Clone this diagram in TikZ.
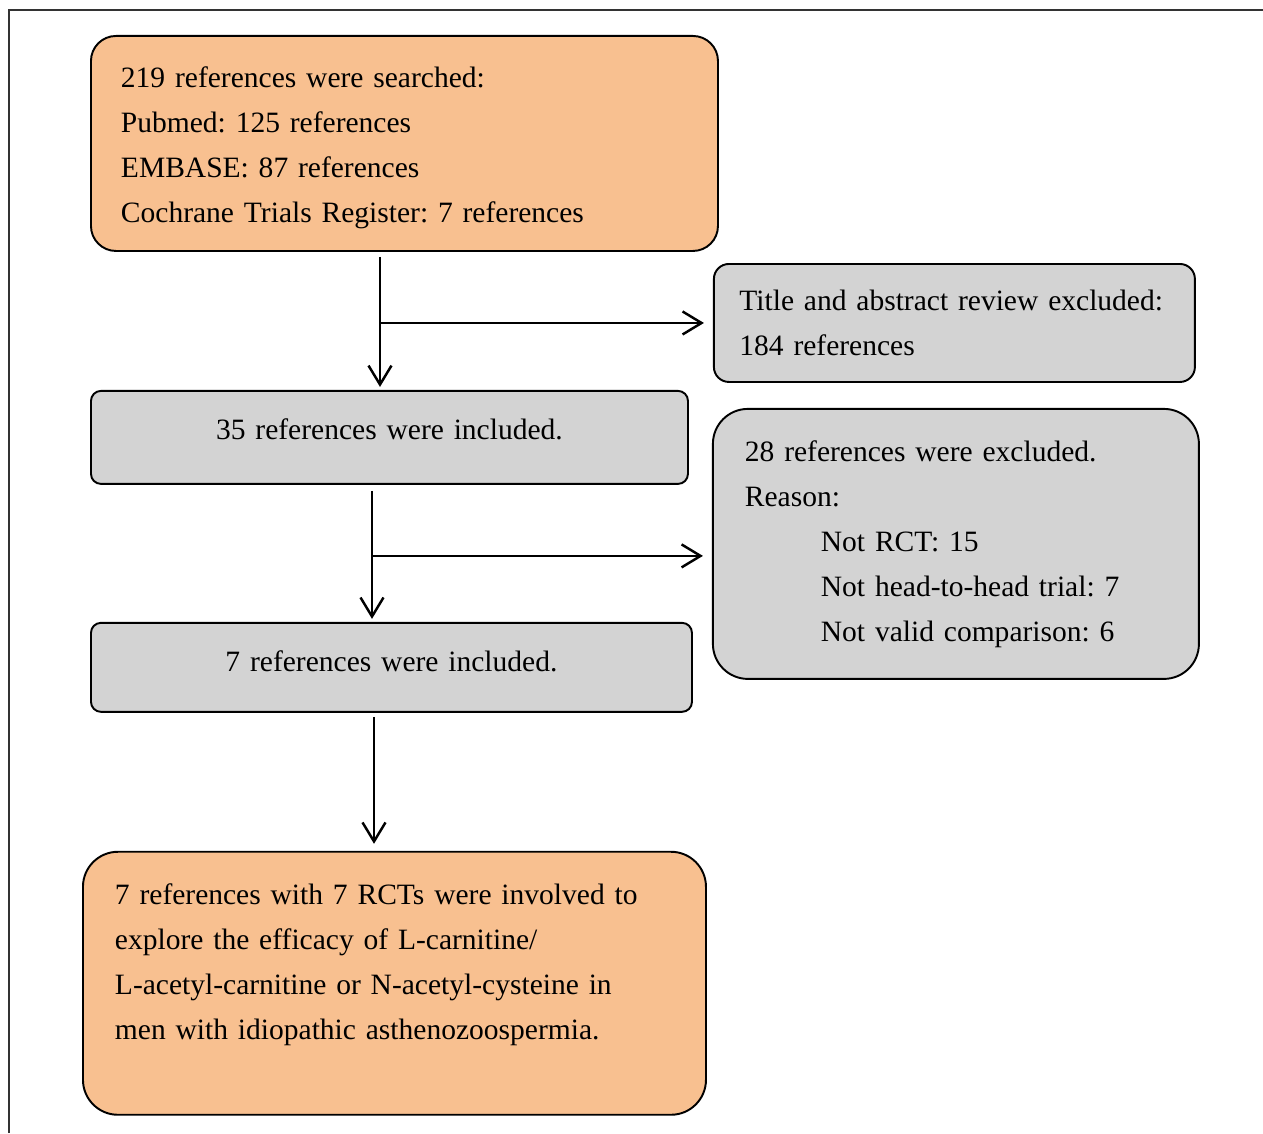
\documentclass[tikz,border=0pt]{standalone}
\usepackage{fontspec}
\setmainfont{Liberation Serif}
\usetikzlibrary{positioning,arrows.meta}
\definecolor{peach}{HTML}{F8C090}
\definecolor{boxgray}{HTML}{D3D3D3}
\tikzset{
  box/.style={draw, line width=1.1pt, inner xsep=0pt, inner ysep=0pt,
    font=\fontsize{16.8}{25.6}\selectfont\frenchspacing, align=left},
  orangebox/.style={box, fill=peach},
  graybox/.style={box, fill=boxgray},
  flow/.style={line width=1.4pt, -{Straight Barb[length=0.38cm,width=0.46cm]}}
}

\begin{document}
\begin{tikzpicture}
  \useasboundingbox (0,0) rectangle (25.26,-22.66);
  \draw[line width=0.8pt, black!80] (0.18,-22.66) -- (0.18,-0.20) -- (25.26,-0.20);

  \node (search) [orangebox, anchor=north west, rounded corners=0.5cm,
    minimum width=12.54cm, minimum height=4.30cm, text width=11.34cm] at (1.80,-0.70)
    {\rule{0pt}{0.58cm}219 references were searched:\\ Pubmed: 125 references\\ EMBASE: 87 references\\
     Cochrane Trials Register: 7 references};
  \node (incl35) [graybox, rounded corners=0.2cm, below=2.76cm of search.south west,
    anchor=north west, minimum width=11.94cm, minimum height=1.86cm,
    text width=11.94cm, align=center]
    {35 references were included.\rule[-0.34cm]{0pt}{0.1pt}};
  \node (title) [graybox, rounded corners=0.3cm, above right=0.14cm and 0.48cm of incl35.north east,
    minimum width=9.62cm, minimum height=2.36cm, text width=8.60cm]
    {\mbox{Title and abstract review excluded:}\\ 184 references};
  \node (excl28) [graybox, rounded corners=0.7cm, below right=0.36cm and 0.46cm of incl35.north east,
    minimum width=9.72cm, minimum height=5.40cm, text width=8.44cm]
    {28 references were excluded.\\ Reason:\\ \hspace*{1.52cm}Not RCT: 15\\
     \hspace*{1.52cm}Not head-to-head trial: 7\\ \hspace*{1.52cm}Not valid comparison: 6};
  \node (incl7) [graybox, rounded corners=0.2cm, below=2.74cm of incl35.south west,
    anchor=north west, minimum width=12.02cm, minimum height=1.78cm,
    text width=12.02cm, align=center]
    {7 references were included.\rule[-0.26cm]{0pt}{0.1pt}};
  \node (final) [orangebox, rounded corners=0.7cm, below=2.76cm of incl7.south west,
    anchor=north west, xshift=-0.16cm, minimum width=12.46cm, minimum height=5.26cm,
    text width=11.18cm]
    {7 references with 7 RCTs were involved to\\ explore the efficacy of L-carnitine/\\
     L-acetyl-carnitine or N-acetyl-cysteine in\\
     men with idiopathic asthenozoospermia.\rule[-0.85cm]{0pt}{0.1pt}};

  % trunks and side branches
  \coordinate (trunk1) at ([xshift=5.80cm]search.south west);
  \coordinate (trunk2) at ([xshift=5.64cm]incl35.south west);
  \coordinate (trunk3) at ([xshift=5.68cm]incl7.south west);
  \coordinate (gate2) at ([yshift=-0.24cm]excl28.west);
  \draw[flow, shorten <=0.10cm, shorten >=0.06cm] (trunk1) -- (trunk1 |- incl35.north);
  \draw[flow, shorten >=0.18cm] (trunk1 |- title.west) -- (title.west);
  \draw[flow, shorten <=0.12cm, shorten >=0.06cm] (trunk2) -- (trunk2 |- incl7.north);
  \draw[flow, shorten >=0.18cm] (trunk2 |- gate2) -- (gate2);
  \draw[flow, shorten <=0.08cm, shorten >=0.14cm] (trunk3) -- (trunk3 |- final.north);
\end{tikzpicture}
\end{document}
